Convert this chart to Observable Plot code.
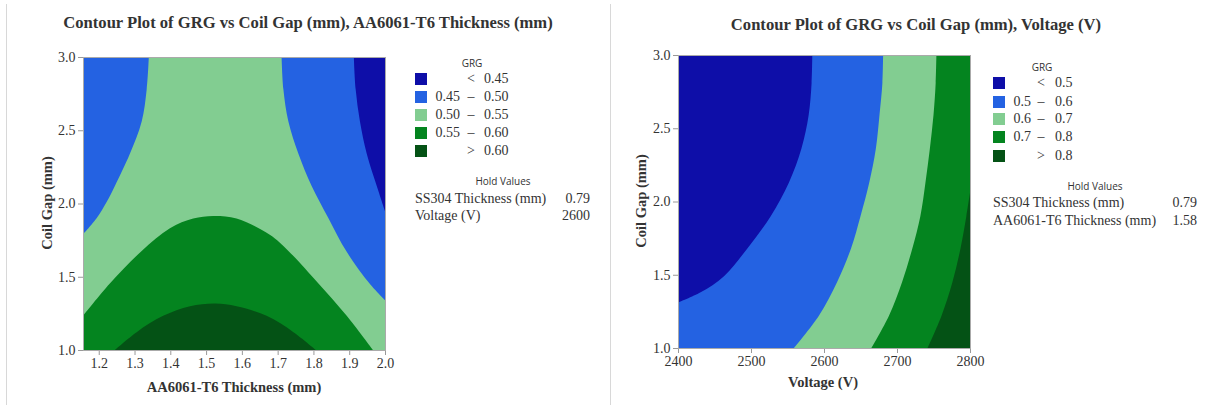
<!DOCTYPE html>
<html><head><meta charset="utf-8">
<script src="https://cdn.jsdelivr.net/npm/d3@7"></script>
<script src="https://cdn.jsdelivr.net/npm/@observablehq/plot@0.6"></script>
<style>
html,body{margin:0;padding:0;background:#fff;}
body{width:1206px;height:407px;overflow:hidden;position:relative;font-family:"Liberation Serif","Times New Roman",serif;color:#333;}
.abs{position:absolute;white-space:nowrap;}
.title{font-weight:bold;font-size:16.6px;transform:translateX(-50%);}
.axlab{font-weight:bold;font-size:14.5px;transform:translate(-50%,-50%);}
.ylab{font-weight:bold;font-size:14.5px;transform:translate(-50%,-50%) rotate(-90deg);}
.small{font-family:"Open Sans","Noto Sans",sans-serif;font-size:10px;transform:translate(-50%,-50%);color:#333;}
.sw{width:12px;height:12px;}
.lt{font-size:14px;transform:translateY(-50%);}
.vline{position:absolute;width:1px;background:#d8d8d8;top:4px;bottom:2px;}
svg{position:absolute;top:0;overflow:visible;}
</style>
</head><body>
<div class="vline" style="left:6px"></div>
<div class="vline" style="left:610px"></div>
<script>
// ---------- data ----------
const colors = ["#0e0ea8", "#2462e2", "#82cd91", "#04841f", "#045215"];

// Left chart: GRG vs Coil Gap, AA6061-T6 Thickness
const leftTitle = "Contour Plot of GRG vs Coil Gap (mm), AA6061-T6 Thickness (mm)";
const leftXLabel = "AA6061-T6 Thickness (mm)";
const yLabel = "Coil Gap (mm)";
const leftXDomain = [1.156, 2.0];
const yDomain = [1.0, 3.0];
const leftXTicks = [1.2, 1.3, 1.4, 1.5, 1.6, 1.7, 1.8, 1.9, 2.0];
const yTicks = [1.0, 1.5, 2.0, 2.5, 3.0];
// contour boundaries
const left050West = [ // 0.50 contour, left side (blue to the left)
  {x:1.156,y:1.79},{x:1.194,y:1.90},{x:1.222,y:2.01},{x:1.245,y:2.12},{x:1.287,y:2.34},
  {x:1.320,y:2.56},{x:1.334,y:2.78},{x:1.340,y:3.0}];
const left050East = [ // 0.50 contour, right side (blue to the right)
  {x:2.0,y:1.34},{x:1.958,y:1.45},{x:1.893,y:1.67},{x:1.842,y:1.90},{x:1.795,y:2.12},
  {x:1.758,y:2.34},{x:1.730,y:2.56},{x:1.716,y:2.78},{x:1.711,y:3.0}];
const left045 = [ // 0.45 contour (dark blue to the right)
  {x:2.0,y:1.95},{x:1.977,y:2.12},{x:1.949,y:2.34},{x:1.930,y:2.56},{x:1.918,y:2.78},{x:1.913,y:3.0}];
const left055 = [ // 0.55 contour (green below)
  {x:1.156,y:1.233},{x:1.231,y:1.454},{x:1.320,y:1.676},{x:1.399,y:1.831},{x:1.464,y:1.897},
  {x:1.520,y:1.915},{x:1.585,y:1.897},{x:1.678,y:1.786},{x:1.730,y:1.676},{x:1.814,y:1.454},
  {x:1.893,y:1.233},{x:1.966,y:1.0}];
const left060 = [ // 0.60 contour (dark green below)
  {x:1.245,y:1.0},{x:1.306,y:1.122},{x:1.380,y:1.233},{x:1.455,y:1.299},{x:1.525,y:1.317},
  {x:1.585,y:1.299},{x:1.669,y:1.233},{x:1.744,y:1.122},{x:1.807,y:1.0}];
const leftLegendLow  = ["", "0.45", "0.50", "0.55", ""];
const leftLegendSym  = ["<", "–", "–", "–", ">"];
const leftLegendHigh = ["0.45", "0.50", "0.55", "0.60", "0.60"];
const leftHoldNames  = ["SS304 Thickness (mm)", "Voltage (V)"];
const leftHoldValues = ["0.79", "2600"];

// Right chart: GRG vs Coil Gap, Voltage
const rightTitle = "Contour Plot of GRG vs Coil Gap (mm), Voltage (V)";
const rightXLabel = "Voltage (V)";
const rightXDomain = [2400, 2800];
const rightXTicks = [2400, 2500, 2600, 2700, 2800];
const right05 = [
  {x:2400,y:1.31},{x:2431,y:1.38},{x:2463,y:1.49},{x:2495,y:1.68},{x:2527,y:1.90},
  {x:2552,y:2.13},{x:2569,y:2.36},{x:2579,y:2.59},{x:2583,y:2.81},{x:2584,y:3.0}];
const right06 = [
  {x:2559,y:1.0},{x:2593,y:1.22},{x:2618,y:1.45},{x:2637,y:1.68},{x:2650,y:1.90},
  {x:2662,y:2.13},{x:2671,y:2.36},{x:2676,y:2.59},{x:2680,y:2.81},{x:2681,y:3.0}];
const right07 = [
  {x:2665,y:1.0},{x:2689,y:1.22},{x:2707,y:1.45},{x:2721,y:1.68},{x:2732,y:1.90},
  {x:2739,y:2.13},{x:2745,y:2.36},{x:2750,y:2.59},{x:2753,y:2.81},{x:2754,y:3.0}];
const right08 = [
  {x:2742,y:1.0},{x:2761,y:1.22},{x:2776,y:1.45},{x:2787,y:1.68},{x:2795,y:1.90},{x:2800,y:2.06}];
const rightLegendLow  = ["", "0.5", "0.6", "0.7", ""];
const rightLegendSym  = ["<", "–", "–", "–", ">"];
const rightLegendHigh = ["0.5", "0.6", "0.7", "0.8", "0.8"];
const rightHoldNames  = ["SS304 Thickness (mm)", "AA6061-T6 Thickness (mm)"];
const rightHoldValues = ["0.79", "1.58"];

// ---------- drawing ----------
const fmt = d3.format(".1f");
const baseStyle = {fontFamily:'"Liberation Serif","Times New Roman",serif', fontSize:"14px", color:"#333", background:"transparent", overflow:"visible"};
const curve = "catmull-rom";

function axes(xTicks, xFmt) {
  return [
    Plot.axisX({ticks:xTicks, tickFormat:xFmt, tickSize:5, tickPadding:3, label:null, stroke:"#999"}),
    Plot.axisY({ticks:yTicks, tickFormat:fmt, tickSize:5, tickPadding:3, label:null, stroke:"#999"}),
    Plot.frame({stroke:"#aaa"})
  ];
}

const leftPlot = Plot.plot({
  width:430, height:407, marginLeft:83, marginRight:45, marginTop:57, marginBottom:57,
  x:{domain:leftXDomain}, y:{domain:yDomain}, style:baseStyle,
  marks:[
    Plot.frame({fill:colors[2], stroke:null}),
    Plot.areaX(left050West, {y:"y", x1:leftXDomain[0], x2:"x", fill:colors[1], curve, clip:true}),
    Plot.areaX(left050East, {y:"y", x1:"x", x2:leftXDomain[1], fill:colors[1], curve, clip:true}),
    Plot.areaX(left045, {y:"y", x1:"x", x2:leftXDomain[1], fill:colors[0], curve, clip:true}),
    Plot.areaY(left055, {x:"x", y1:yDomain[0], y2:"y", fill:colors[3], curve, clip:true}),
    Plot.areaY(left060, {x:"x", y1:yDomain[0], y2:"y", fill:colors[4], curve, clip:true}),
    ...axes(leftXTicks, fmt)
  ]
});
leftPlot.style.left = "0px";
document.body.appendChild(leftPlot);

const rightPlot = Plot.plot({
  width:420, height:407, marginLeft:78, marginRight:50, marginTop:55, marginBottom:59,
  x:{domain:rightXDomain}, y:{domain:yDomain}, style:baseStyle,
  marks:[
    Plot.frame({fill:colors[3], stroke:null}),
    Plot.areaX(right08, {y:"y", x1:"x", x2:rightXDomain[1], fill:colors[4], curve, clip:true}),
    Plot.areaX(right07, {y:"y", x1:rightXDomain[0], x2:"x", fill:colors[2], curve, clip:true}),
    Plot.areaX(right06, {y:"y", x1:rightXDomain[0], x2:"x", fill:colors[1], curve, clip:true}),
    Plot.areaX(right05, {y:"y", x1:rightXDomain[0], x2:"x", fill:colors[0], curve, clip:true}),
    ...axes(rightXTicks, d3.format("d"))
  ]
});
rightPlot.style.left = "600px";
document.body.appendChild(rightPlot);

// ---------- text ----------
function addDiv(cls, text, left, top, extra) {
  const d = document.createElement("div");
  d.className = "abs " + cls;
  d.textContent = text;
  d.style.left = left + "px";
  d.style.top = top + "px";
  if (extra) Object.assign(d.style, extra);
  document.body.appendChild(d);
  return d;
}

function legend(cfg) {
  addDiv("small", "GRG", cfg.grgX, cfg.grgY);
  cfg.low.forEach((lo, i) => {
    const y = cfg.rowY[i];
    const sw = addDiv("sw", "", cfg.swX, y - 6);
    sw.style.background = colors[i];
    addDiv("lt", lo, cfg.lowRight, y, {transform:"translate(-100%,-50%)"});
    addDiv("lt", cfg.sym[i], cfg.symX, y, {transform:"translate(-50%,-50%)"});
    addDiv("lt", cfg.high[i], cfg.highX, y);
  });
  addDiv("small", "Hold Values", cfg.holdX, cfg.holdY);
  cfg.holdNames.forEach((n, i) => {
    addDiv("lt", n, cfg.swX, cfg.holdRowY[i]);
    addDiv("lt", cfg.holdValues[i], cfg.valRight, cfg.holdRowY[i], {transform:"translate(-100%,-50%)"});
  });
}

addDiv("title", leftTitle, 308, 13);
addDiv("axlab", leftXLabel, 234, 387);
addDiv("ylab", yLabel, 47, 203);
legend({grgX:472, grgY:63, swX:415, rowY:[79,97,115,133,151], low:leftLegendLow, sym:leftLegendSym, high:leftLegendHigh,
        lowRight:460, symX:471, highX:484, holdX:503, holdY:181, holdRowY:[199,216],
        holdNames:leftHoldNames, holdValues:leftHoldValues, valRight:590});

addDiv("title", rightTitle, 916, 15);
addDiv("axlab", rightXLabel, 823, 382);
addDiv("ylab", yLabel, 641, 201);
legend({grgX:1042, grgY:67, swX:993, rowY:[83,102,119,137,156], low:rightLegendLow, sym:rightLegendSym, high:rightLegendHigh,
        lowRight:1031, symX:1041, highX:1055, holdX:1095, holdY:186, holdRowY:[203,221],
        holdNames:rightHoldNames, holdValues:rightHoldValues, valRight:1197});
</script>
</body></html>
